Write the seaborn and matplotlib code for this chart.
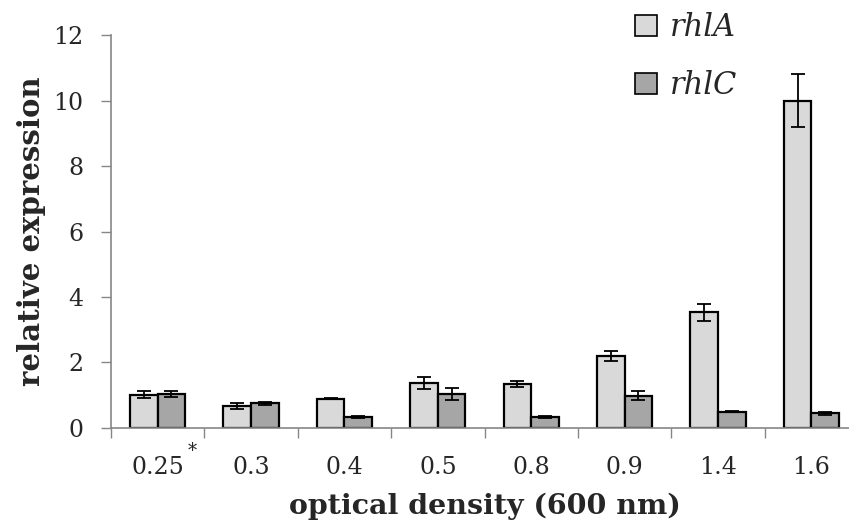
import numpy as np
import pandas as pd
import matplotlib
matplotlib.use("Agg")
import matplotlib.pyplot as plt
import seaborn as sns
from matplotlib.patches import Patch
from matplotlib.ticker import FixedLocator
import matplotlib.transforms as mtransforms

# optical density groups and expression values
densities = ["0.25", "0.3", "0.4", "0.5", "0.8", "0.9", "1.4", "1.6"]
genes = ["rhlA", "rhlC"]
rhlA_mean = [1.02, 0.66, 0.90, 1.38, 1.35, 2.20, 3.53, 10.0]
rhlA_err = [0.10, 0.09, 0.02, 0.18, 0.09, 0.16, 0.25, 0.80]
rhlC_mean = [1.03, 0.75, 0.34, 1.03, 0.34, 0.98, 0.50, 0.45]
rhlC_err = [0.09, 0.05, 0.02, 0.18, 0.02, 0.14, 0.02, 0.05]
y_ticks = [0, 2, 4, 6, 8, 10, 12]

colors = {"rhlA": "#d9d9d9", "rhlC": "#a6a6a6"}

df = pd.DataFrame({
    "od": densities * 2,
    "gene": ["rhlA"] * len(densities) + ["rhlC"] * len(densities),
    "value": rhlA_mean + rhlC_mean,
    "err": rhlA_err + rhlC_err,
})

sns.set_theme(style="white")
plt.rcParams["font.family"] = ["DejaVu Serif"]

fig = plt.figure(figsize=(8.49, 5.31), dpi=100)
ax = fig.add_axes([0.1307, 0.194, 0.880, 0.740])

sns.barplot(data=df, x="od", y="value", hue="gene", order=densities,
            hue_order=genes, palette=colors, width=0.59, errorbar=None,
            edgecolor="black", linewidth=1.6, legend=False, ax=ax)

# error bars at the centre of each bar
for container, gene in zip(ax.containers, genes):
    sub = df[df["gene"] == gene].set_index("od").loc[densities]
    xs = [p.get_x() + p.get_width() / 2 for p in container.patches]
    ax.errorbar(xs, sub["value"].values, yerr=sub["err"].values, fmt="none",
                ecolor="black", elinewidth=1.3, capsize=5, capthick=1.3, zorder=5)

ax.set_xlim(-0.5, len(densities) - 0.5)
ax.set_ylim(0, 12)
ax.set_yticks(y_ticks)
ax.set_yticklabels([str(t) for t in y_ticks], fontsize=17)

# labels centred under groups, tick marks on group boundaries
ax.set_xticks(range(len(densities)))
ax.set_xticklabels(densities, fontsize=17)
ax.xaxis.set_minor_locator(FixedLocator(np.arange(-0.5, len(densities), 1.0)))
ax.tick_params(axis="x", which="major", length=0, pad=20)
ax.tick_params(axis="x", which="minor", length=7, width=1, color="#868686",
               direction="out", bottom=True)
ax.tick_params(axis="y", length=7, width=1, color="#868686", direction="out",
               left=True, pad=13)

for side in ["top", "right"]:
    ax.spines[side].set_visible(False)
for side in ["left", "bottom"]:
    ax.spines[side].set_color("#868686")
    ax.spines[side].set_linewidth(1.2)

# asterisk next to the first group label
trans = mtransforms.blended_transform_factory(ax.transData, ax.transAxes)
ax.text(0.37, -0.058, "*", transform=trans, fontsize=13, ha="center", va="center")

ax.set_xlabel("optical density (600 nm)", fontsize=20.5, fontweight="bold")
ax.xaxis.set_label_coords(0.5, -0.165)
ax.set_ylabel("relative expression", fontsize=21, fontweight="bold", labelpad=5)

handles = [Patch(facecolor=colors[g], edgecolor="black", linewidth=1.2, label=g)
           for g in genes]
leg = ax.legend(handles=handles, loc="upper left", bbox_to_anchor=(0.665, 1.128),
                frameon=False, prop={"style": "italic", "size": 22},
                handlelength=0.72, handleheight=0.72, handletextpad=0.4,
                labelspacing=0.88)

fig.savefig("out.png", dpi=100)
